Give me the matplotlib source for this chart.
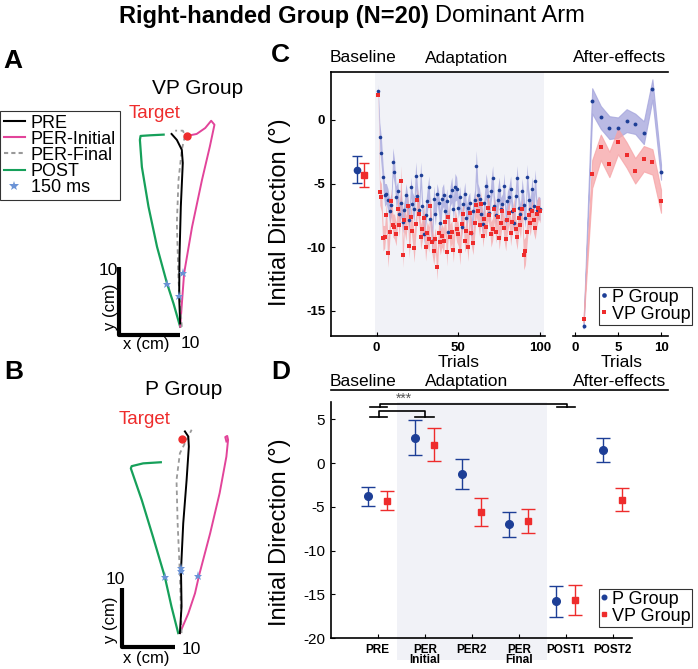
import numpy as np
import matplotlib.pyplot as plt
from matplotlib.lines import Line2D

W, H = 698, 669
plt.rcParams['font.family'] = ['Liberation Sans', 'DejaVu Sans']

# ---- panel A / B : mean hand paths (cm, start at origin) ----
vp_pre_x = [-1.3, -0.5, 0.25, 0.4, 0.1, -0.1, -0.15, 0.0]
vp_pre_y = [29.1, 28.2, 26.7, 24.7, 18.1, 10.5, 4.4, 0.4]
vp_init_x = [0.0, 0.6, 1.8, 3.3, 4.5, 5.2, 4.7, 3.8, 2.5, 1.0]
vp_init_y = [-0.1, 8.0, 15.0, 22.1, 27.2, 30.5, 31.1, 30.0, 29.1, 28.8]
vp_final_x = [0.25, -0.25, -0.5, -0.25, 0.25, 0.75, 0.4, -0.75]
vp_final_y = [-0.1, 7.0, 15.6, 22.1, 26.7, 28.9, 29.6, 29.6]
vp_post_x = [0.0, -1.0, -2.0, -3.5, -4.8, -5.8, -6.1, -6.0, -4.5, -2.5]
vp_post_y = [-0.1, 3.4, 6.5, 12.0, 18.1, 24.1, 28.2, 28.8, 28.9, 29.0]
vp_star_x = [0.5, -2.0, -0.15]
vp_star_y = [8.1, 6.4, 4.5]
vp_target = (1.0, 28.8)

p_pre_x = [0.0, 0.3, 0.2, 0.6, 1.2, 1.6, 1.5, 0.9]
p_pre_y = [0.0, 4.75, 11.25, 19.6, 27.3, 33.3, 35.1, 36.0]
p_init_x = [0.0, 1.5, 2.7, 3.45, 5.4, 7.1, 8.3, 8.6, 8.45, 8.1, 8.3]
p_init_y = [0.0, 3.5, 7.1, 10.4, 17.8, 25.0, 31.5, 34.5, 35.2, 35.0, 34.2]
p_final_x = [0.3, 0.0, -0.4, -0.6, 0.0, 1.2, 2.1]
p_final_y = [0.0, 10.7, 19.6, 27.3, 32.1, 34.5, 36.3]
p_post_x = [-0.3, -1.5, -2.7, -4.8, -6.8, -8.75, -8.6, -6.55, -3.4]
p_post_y = [0.0, 4.75, 10.1, 17.2, 23.75, 29.4, 29.8, 30.3, 30.5]
p_star_x = [-2.7, 0.2, 0.2, 3.3]
p_star_y = [10.0, 11.6, 11.1, 10.2]
p_target = (0.3, 34.7)

# ---- panel C : trial by trial initial direction (deg) ----
base_p, base_p_err = -3.9, 1.05
base_vp, base_vp_err = -4.3, 0.95

adapt_p = [2.3, -1.3, -2.6, -4.5, -5.9, -5.8, -6.3, -7.2, -6.7, -3.3,
           -4.1, -6.1, -5.6, -7.4, -6.5, -8.0, -7.1, -5.9, -6.8, -7.9,
           -5.3, -6.6, -7.0, -4.4, -6.0, -7.1, -4.3, -6.8, -9.0, -7.5,
           -6.4, -5.3, -7.8, -9.5, -6.2, -7.4, -5.8, -6.5, -8.1, -6.2,
           -5.9, -7.2, -6.4, -8.8, -6.0, -5.5, -7.0, -5.3, -5.4, -6.9,
           -6.1, -8.4, -6.6, -5.8, -7.7, -6.9, -6.5, -8.9, -7.2, -6.3,
           -3.6, -5.9, -6.2, -7.4, -8.2, -6.5, -5.2, -6.0, -7.3, -5.6,
           -4.6, -6.8, -7.5, -6.3, -5.5, -7.0, -6.6, -5.2, -7.9, -6.4,
           -6.1, -5.4, -7.2, -8.1, -6.0, -4.6, -6.9, -7.4, -5.6, -6.7,
           -7.7, -4.5, -6.3, -7.0, -5.4, -6.8, -4.8, -7.1, -6.9, -7.0]
adapt_p_sem = [0.5, 1.1, 1.2, 1.0, 0.9, 0.8, 0.9, 1.0, 0.9, 1.1,
               1.0, 0.9, 0.8, 0.9, 1.1, 0.9, 0.8, 0.9, 1.0, 0.9,
               0.8, 0.9, 1.0, 1.1, 0.9, 0.8, 1.0, 0.9, 0.8, 0.9,
               1.0, 0.9, 0.8, 1.1, 1.0, 0.9, 0.8, 0.9, 1.0, 0.9,
               0.9, 0.8, 1.0, 0.9, 0.8, 1.0, 0.9, 1.1, 0.9, 0.8,
               0.9, 1.0, 0.8, 0.9, 1.0, 0.9, 0.8, 1.0, 0.9, 0.8,
               1.2, 0.9, 0.8, 1.0, 0.9, 0.8, 1.0, 0.9, 0.8, 0.9,
               1.0, 0.9, 0.8, 0.9, 1.0, 0.9, 0.8, 1.0, 0.9, 0.8,
               0.9, 1.0, 0.9, 0.8, 0.9, 1.0, 0.9, 0.8, 1.0, 0.9,
               0.8, 1.0, 0.9, 0.8, 0.9, 1.0, 0.9, 0.8, 0.9, 0.9]

adapt_vp = [2.0, -5.7, -6.1, -9.3, -9.2, -7.5, -10.5, -8.8, -6.4, -8.3,
            -8.4, -9.0, -7.0, -8.3, -4.8, -10.6, -7.9, -8.5, -6.8, -9.9,
            -7.6, -8.7, -10.1, -8.2, -6.3, -7.4, -9.2, -8.6, -7.7, -10.0,
            -8.9, -9.4, -6.8, -9.6, -10.3, -9.4, -11.6, -8.9, -9.6, -9.1,
            -9.5, -8.0, -10.4, -7.6, -9.2, -8.8, -10.2, -7.9, -8.6, -9.0,
            -10.3, -8.2, -7.4, -9.5, -8.7, -10.0, -7.3, -8.9, -9.7, -8.1,
            -6.7, -7.2, -8.3, -6.6, -9.1, -7.8, -8.4, -6.9, -7.5, -9.0,
            -8.6, -7.0, -8.8, -7.6, -9.3, -8.1, -7.2, -8.5, -9.4, -7.9,
            -7.3, -8.9, -8.0, -7.1, -8.6, -9.2, -7.7, -8.3, -7.0, -10.6,
            -10.3, -8.8, -7.5, -8.1, -7.2, -7.9, -8.5, -7.4, -6.9, -7.2]
adapt_vp_sem = [0.5, 1.0, 1.1, 1.0, 0.9, 1.0, 1.1, 0.9, 1.0, 0.9,
                1.0, 0.9, 1.0, 0.9, 1.2, 1.0, 0.9, 1.0, 0.9, 1.0,
                0.9, 1.0, 1.1, 0.9, 1.0, 0.9, 1.0, 0.9, 1.0, 1.1,
                0.9, 1.0, 0.9, 1.0, 1.1, 0.9, 1.0, 0.9, 1.0, 0.9,
                1.0, 0.9, 1.1, 0.9, 1.0, 0.9, 1.0, 0.9, 1.0, 0.9,
                1.1, 0.9, 1.0, 0.9, 1.0, 1.1, 0.9, 1.0, 0.9, 1.0,
                0.9, 1.0, 0.9, 1.0, 0.9, 1.0, 0.9, 1.0, 0.9, 1.0,
                0.9, 1.0, 0.9, 1.0, 0.9, 1.0, 0.9, 1.0, 0.9, 1.0,
                0.9, 1.0, 0.9, 1.0, 0.9, 1.0, 0.9, 1.0, 0.9, 1.2,
                1.1, 1.0, 0.9, 1.0, 0.9, 1.0, 0.9, 1.0, 0.9, 0.9]

after_p = [-16.2, 1.5, 0.2, -0.6, -0.6, -0.05, -0.3, -1.0, 2.4, -4.1]
after_p_sem = [0.2, 1.0, 0.9, 0.9, 0.8, 0.9, 0.8, 0.9, 0.8, 0.6]
after_vp = [-15.7, -4.25, -2.15, -3.5, -1.7, -2.75, -4.0, -3.05, -3.3, -6.4]
after_vp_sem = [0.2, 1.1, 1.0, 1.0, 1.0, 1.0, 1.0, 1.0, 1.0, 0.9]

# ---- panel D : block means ----
d_cats = ['PRE', 'PER\nInitial', 'PER2', 'PER\nFinal', 'POST1', 'POST2']
d_p_mean = [-3.8, 2.9, -1.25, -7.0, -15.8, 1.5]
d_p_err = [1.1, 2.0, 1.7, 1.45, 1.75, 1.4]
d_vp_mean = [-4.3, 2.1, -5.6, -6.6, -15.6, -4.2]
d_vp_err = [1.1, 1.9, 1.6, 1.4, 1.7, 1.3]

blue = '#1d3e96'
red = '#ee2c2c'
blue_band = '#a3a3dc'
red_band = '#f6a3a6'
shade = '#f1f2f7'
pink = '#e2449a'
green = '#16a05a'
star_c = '#6b93d6'

fig = plt.figure(figsize=(W / 100, H / 100), dpi=100)


def box(x0, y0, x1, y1):
    return [x0 / W, 1 - y1 / H, (x1 - x0) / W, (y1 - y0) / H]


def ftext(x, y, s, **kw):
    kw.setdefault('ha', 'center')
    kw.setdefault('va', 'center')
    return fig.text(x / W, 1 - y / H, s, **kw)


def fline(xs, ys, **kw):
    fig.add_artist(Line2D([x / W for x in xs], [1 - y / H for y in ys], **kw))


# ---------------- A and B ----------------
def paths(ax, pre, init, final, post, stars, target):
    ax.plot(*post, color=green, lw=1.6)
    ax.plot(*init, color=pink, lw=1.4)
    ax.plot(*final, color='#999999', lw=1.3, ls=(0, (2.5, 2)))
    ax.plot(*pre, color='black', lw=1.4)
    ax.plot(*stars, ls='none', marker='*', color=star_c, ms=6.5, mew=0)
    ax.plot(*target, 'o', color=red, ms=5)
    ax.axis('off')


ax_a = fig.add_axes(box(0, 60, 260, 340))
paths(ax_a, (vp_pre_x, vp_pre_y), (vp_init_x, vp_init_y), (vp_final_x, vp_final_y),
      (vp_post_x, vp_post_y), (vp_star_x, vp_star_y), vp_target)
ax_a.plot([-9.2, -9.2, 0], [9.0, -1.4, -1.4], color='black', lw=3, solid_capstyle='butt')
ax_a.set_xlim(-27.3, 12.1)
ax_a.set_ylim(-2.1, 40.3)

ax_b = fig.add_axes(box(0, 360, 260, 660))
paths(ax_b, (p_pre_x, p_pre_y), (p_init_x, p_init_y), (p_final_x, p_final_y),
      (p_post_x, p_post_y), (p_star_x, p_star_y), p_target)
ax_b.plot([-10.4, -10.4, -0.9], [8.0, -2.4, -2.4], color='black', lw=3, solid_capstyle='butt')
ax_b.set_xlim(-32.1, 14.3)
ax_b.set_ylim(-4.8, 48.75)

handles = [Line2D([], [], color='black', lw=1.5),
           Line2D([], [], color=pink, lw=1.5),
           Line2D([], [], color='#999999', lw=1.5, ls=(0, (2, 1.5))),
           Line2D([], [], color=green, lw=1.5),
           Line2D([], [], ls='none', marker='*', color=star_c, ms=7, mew=0)]
leg = ax_a.legend(handles, ['PRE', 'PER-Initial', 'PER-Final', 'POST', '150 ms'],
                  loc='upper left', bbox_to_anchor=(0.0, 1 - 111 / H),
                  bbox_transform=fig.transFigure, fontsize=13, frameon=True,
                  fancybox=False, edgecolor='black', handlelength=1.2,
                  handletextpad=0.3, labelspacing=-0.05, borderpad=0.2,
                  borderaxespad=0)
leg.get_frame().set_linewidth(0.8)

ftext(198, 88, 'VP Group', fontsize=15)
ftext(155, 113, 'Target', fontsize=13.5, color=red)
ftext(108, 270, '10', fontsize=12.5)
ftext(111, 307, 'y (cm)', fontsize=12, rotation=90)
ftext(146, 344, 'x (cm)', fontsize=12)
ftext(190, 343, '10', fontsize=12.5)

ftext(184, 389, 'P Group', fontsize=15)
ftext(145, 420, 'Target', fontsize=13.5, color=red)
ftext(115, 580, '10', fontsize=12.5)
ftext(111, 620, 'y (cm)', fontsize=12, rotation=90)
ftext(146, 659, 'x (cm)', fontsize=12)
ftext(191, 650, '10', fontsize=12.5)

# ---------------- C ----------------
trials = np.arange(1, len(adapt_p) + 1)
after_trials = np.arange(1, len(after_p) + 1)

ax_c = fig.add_axes(box(330.7, 71.7, 545, 336))
ax_c.axvspan(-1, 102.5, color=shade, lw=0, zorder=0)
for mean, sem, col, band, mk in [(adapt_p, adapt_p_sem, blue, blue_band, 'o'),
                                 (adapt_vp, adapt_vp_sem, red, red_band, 's')]:
    m = np.array(mean)
    s = np.array(sem)
    ax_c.fill_between(trials, m - s, m + s, color=band, alpha=0.75, lw=0, zorder=1)
    ax_c.plot(trials, m, ls='none', marker=mk, color=col, ms=2.6, mew=0, zorder=3)
ax_c.errorbar([-12.2], [base_p], yerr=[base_p_err], fmt='o', color=blue, ms=4.5,
              capsize=3.5, elinewidth=1, capthick=1)
ax_c.errorbar([-7.7], [base_vp], yerr=[base_vp_err], fmt='s', color=red, ms=3.8,
              capsize=3.5, elinewidth=1, capthick=1)
ax_c.set_xlim(-28, 103)
ax_c.set_ylim(-17, 3.8)
ax_c.set_xticks([0, 50, 100])
ax_c.set_yticks([0, -5, -10, -15])
ax_c.set_xticklabels(['0', '50', '100'], fontweight='bold', fontsize=9.5)
ax_c.set_yticklabels(['0', '-5', '-10', '-15'], fontweight='bold', fontsize=9.5)
ax_c.tick_params(direction='in', length=3, width=0.8, pad=4)
for sp in ['top', 'right']:
    ax_c.spines[sp].set_visible(False)
for sp in ['left', 'bottom']:
    ax_c.spines[sp].set_linewidth(1.2)

ax_c2 = fig.add_axes(box(573, 71.7, 668, 336))
for mean, sem, col, band, mk in [(after_p, after_p_sem, blue, blue_band, 'o'),
                                 (after_vp, after_vp_sem, red, red_band, 's')]:
    m = np.array(mean)
    s = np.array(sem)
    ax_c2.fill_between(after_trials, m - s, m + s, color=band, alpha=0.75, lw=0.8,
                       edgecolor=band, zorder=1)
    ax_c2.plot(after_trials, m, ls='none', marker=mk, color=col, ms=2.8, mew=0,
               zorder=3, label='P Group' if col == blue else 'VP Group')
ax_c2.set_xlim(-0.23, 10.81)
ax_c2.set_ylim(-17, 3.8)
ax_c2.set_xticks([0, 5, 10])
ax_c2.set_xticklabels(['0', '5', '10'], fontweight='bold', fontsize=9.5)
ax_c2.set_yticks([])
ax_c2.tick_params(direction='in', length=3, width=0.8, pad=4)
for sp in ['top', 'right', 'left']:
    ax_c2.spines[sp].set_visible(False)
ax_c2.spines['bottom'].set_linewidth(1.2)
leg_c = ax_c2.legend(loc='upper left', bbox_to_anchor=(599 / W, 1 - 287 / H),
                     bbox_transform=fig.transFigure, fontsize=13, frameon=True,
                     fancybox=False, edgecolor='black', handlelength=0.4,
                     handletextpad=0.2, labelspacing=0.0, borderpad=0.1,
                     borderaxespad=0, markerscale=1.2)
leg_c.get_frame().set_linewidth(0.8)

ftext(459, 362, 'Trials', fontsize=12.5)
ftext(622, 362, 'Trials', fontsize=12.5)
ftext(280, 212, 'Initial Direction (°)', fontsize=17, rotation=90)

# ---------------- D ----------------
xpos = np.arange(1, len(d_cats) + 1)
ax_d = fig.add_axes(box(330.7, 401.7, 631.7, 638.3))
ax_d.axvspan(1.4, 4.59, ymin=-0.092, ymax=1, color=shade, lw=0, zorder=0, clip_on=False)
ax_d.errorbar(xpos - 0.2, d_p_mean, yerr=d_p_err, fmt='o', color=blue, ms=5.5,
              capsize=5, elinewidth=1, capthick=1, label='P Group')
ax_d.errorbar(xpos + 0.2, d_vp_mean, yerr=d_vp_err, fmt='s', color=red, ms=4.5,
              capsize=5, elinewidth=1, capthick=1, label='VP Group')
ax_d.set_xlim(0, 6.4)
ax_d.set_ylim(-20, 7)
ax_d.set_xticks(xpos)
ax_d.set_xticklabels(d_cats, fontsize=8.5, fontweight='bold', linespacing=0.8)
ax_d.set_yticks([5, 0, -5, -10, -15, -20])
ax_d.set_yticklabels(['5', '0', '-5', '-10', '-15', '-20'], fontsize=11)
ax_d.tick_params(direction='in', length=3, width=0.8, pad=4)
ax_d.tick_params(axis='x', pad=4)
for sp in ['top', 'right']:
    ax_d.spines[sp].set_visible(False)
for sp in ['left', 'bottom']:
    ax_d.spines[sp].set_linewidth(1.2)

br = dict(color='black', lw=1.2, clip_on=False)
ax_d.plot([0.83, 1.2], [6.4, 6.4], **br)
ax_d.plot([1.04, 1.04, 5.03, 5.03], [6.4, 6.78, 6.78, 6.4], **br)
ax_d.plot([4.82, 5.2], [6.4, 6.4], **br)
ax_d.plot([0.83, 1.2], [5.2, 5.2], **br)
ax_d.plot([1.02, 1.02, 2.0, 2.0], [5.2, 5.95, 5.95, 5.2], **br)
ax_d.plot([1.8, 2.19], [5.2, 5.2], **br)
ftext(404, 399, '***', fontsize=10, color='#555555')

h, l = ax_d.get_legend_handles_labels()
leg_d = ax_d.legend([hh[0] for hh in h], l, loc='upper left',
                    bbox_to_anchor=(599 / W, 1 - 589 / H),
                    bbox_transform=fig.transFigure, fontsize=13, frameon=True,
                    fancybox=False, edgecolor='black', handlelength=0.4,
                    handletextpad=0.2, labelspacing=0.0, borderpad=0.1,
                    borderaxespad=0, markerscale=0.6)
leg_d.get_frame().set_linewidth(0.8)

ftext(280, 532, 'Initial Direction (°)', fontsize=17, rotation=90)

# ---------------- headers ----------------
for y_lab, y_line in [(58, 71.5), (382, 390)]:
    ftext(363, y_lab, 'Baseline', fontsize=12.5)
    ftext(467, y_lab, 'Adaptation', fontsize=12.5)
    ftext(620, y_lab, 'After-effects', fontsize=12.5)
    fline([330.7, 668], [y_line, y_line], color='black', lw=1.2)

for s, x, y in [('A', 13, 61), ('B', 14, 372), ('C', 280, 55), ('D', 281, 372)]:
    ftext(x, y, s, fontsize=19, fontweight='bold')

ftext(429, 16, 'Right-handed Group (N=20)', fontsize=17, fontweight='bold', ha='right')
ftext(435, 16, 'Dominant Arm', fontsize=17, ha='left')

fig.savefig('out.png', dpi=100)
